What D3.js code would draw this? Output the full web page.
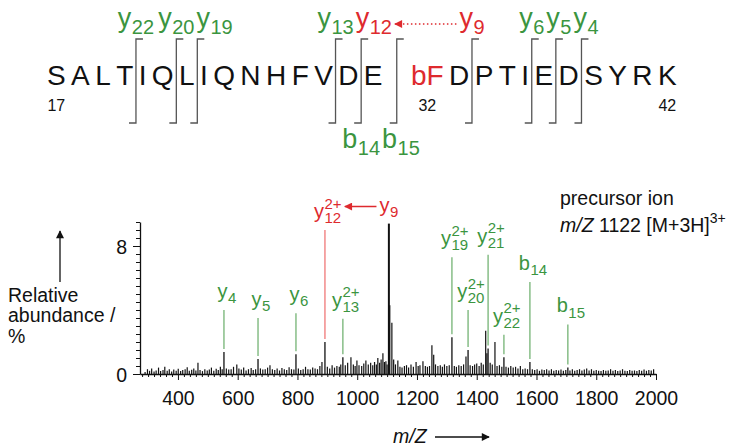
<!DOCTYPE html>
<html>
<head>
<meta charset="utf-8">
<script src="https://cdn.jsdelivr.net/npm/d3@7"></script>
<style>
  body { margin: 0; background: #fff; }
  svg { display: block; font-family: "Liberation Sans", Arial, Helvetica, sans-serif; }
</style>
</head>
<body>
<div id="chart"></div>
<script>
// peptide, residues 17-42
const residues = ['S', 'A', 'L', 'T', 'I', 'Q', 'L', 'I', 'Q', 'N', 'H', 'F', 'V', 'D', 'E',
  'bF', 'D', 'P', 'T', 'I', 'E', 'D', 'S', 'Y', 'R', 'K'];
const firstResidue = 17;
const numberedResidues = [17, 32, 42];
const modifiedResidue = 'bF';
const yFragments = [22, 20, 19, 13, 12, 9, 6, 5, 4];
const bFragments = [14, 15];
const redIons = ['y12', 'y9'];

// annotated fragment peaks
const ionNames = ['y4', 'y5', 'y6', 'y12', 'y13', 'y9', 'y19', 'y20', 'y21', 'y22', 'b14', 'b15'];
const ionCharge = [1, 1, 1, 2, 2, 1, 2, 2, 2, 2, 1, 1];
const ionMz = [554, 668, 795, 892, 952, 1106, 1317, 1371, 1438, 1491, 1578, 1705];
const ionAbundance = [1.37, 0.93, 1.24, 2.0, 1.05, 9.4, 2.3, 1.5, 1.6, 1.05, 0.75, 0.4];

// unlabelled peaks
const otherMz = [290, 298, 305, 312, 320, 327, 335, 342, 350, 356, 364, 371, 379, 386, 394, 401, 409, 416,
  424, 431, 438, 446, 453, 460, 467, 474, 482, 490, 498, 505, 512, 520, 528, 535, 542, 548, 562, 570, 578,
  586, 597, 604, 612, 620, 628, 636, 645, 652, 660, 676, 684, 692, 700, 708, 716, 724, 732, 740, 748, 756,
  764, 772, 780, 788, 803, 811, 819, 827, 835, 843, 851, 859, 867, 875, 882, 900, 908, 916, 924, 932, 940,
  945, 960, 968, 979, 987, 993, 999, 1006, 1015, 1022, 1029, 1037, 1045, 1052, 1058, 1064, 1069, 1075,
  1080, 1086, 1091, 1096, 1100, 1109, 1116, 1122, 1128, 1136, 1143, 1150, 1158, 1165, 1172, 1180, 1188,
  1197, 1204, 1210, 1220, 1228, 1235, 1242, 1250, 1256, 1262, 1270, 1278, 1285, 1292, 1300, 1308, 1325,
  1332, 1340, 1348, 1356, 1364, 1378, 1386, 1393, 1400, 1408, 1415, 1422, 1430, 1434, 1445, 1452, 1461,
  1468, 1476, 1484, 1498, 1506, 1514, 1522, 1530, 1538, 1546, 1554, 1562, 1570, 1586, 1594, 1602, 1610,
  1618, 1626, 1634, 1642, 1650, 1658, 1666, 1674, 1682, 1690, 1698, 1712, 1720, 1728, 1736, 1744, 1752,
  1760, 1768, 1776, 1784, 1792, 1800, 1808, 1816, 1824, 1832, 1840, 1848, 1856, 1864, 1872, 1880, 1888,
  1896, 1904, 1912, 1920, 1928, 1936, 1944, 1952, 1960, 1968, 1976, 1984, 1992];
const otherAbundance = [0.12, 0.3, 0.2, 0.35, 0.15, 0.22, 0.4, 0.18, 0.25, 0.45, 0.2, 0.3, 0.15, 0.28, 0.2,
  0.33, 0.18, 0.25, 0.3, 0.42, 0.2, 0.27, 0.35, 0.22, 0.7, 0.25, 0.18, 0.3, 0.22, 0.28, 0.4, 0.2, 0.33, 0.25,
  0.45, 0.3, 0.35, 0.28, 0.3, 0.45, 0.6, 0.35, 0.28, 0.4, 0.22, 0.3, 0.38, 0.25, 0.3, 0.35, 0.28, 0.3, 0.4,
  0.55, 0.3, 0.25, 0.35, 0.22, 0.38, 0.3, 0.25, 0.42, 0.3, 0.28, 0.35, 0.25, 0.3, 0.45, 0.3, 0.28, 0.4, 0.35,
  0.3, 0.5, 0.75, 0.45, 0.35, 0.55, 0.4, 0.5, 0.45, 0.6, 0.55, 0.7, 1.05, 0.6, 0.5, 0.85, 0.55, 0.5, 0.65,
  0.85, 0.6, 0.7, 0.55, 0.75, 0.6, 1.0, 0.7, 0.9, 1.3, 0.75, 0.8, 0.6, 4.3, 3.2, 0.9, 0.6, 0.85, 0.45, 0.4,
  0.5, 0.55, 0.4, 0.6, 0.45, 0.75, 0.5, 0.55, 0.8, 0.5, 0.45, 0.5, 1.8, 1.2, 0.6, 0.5, 0.55, 0.45, 0.6, 0.5,
  0.55, 0.5, 0.45, 0.55, 0.5, 0.6, 1.1, 0.55, 0.5, 0.6, 0.65, 0.5, 0.7, 0.6, 2.7, 1.3, 0.7, 0.6, 2.0, 0.5,
  0.55, 0.45, 0.45, 0.4, 0.5, 0.4, 0.45, 0.35, 0.5, 0.3, 0.35, 0.3, 0.3, 0.25, 0.3, 0.2, 0.28, 0.25, 0.3,
  0.22, 0.3, 0.2, 0.25, 0.22, 0.28, 0.2, 0.25, 0.22, 0.3, 0.2, 0.25, 0.3, 0.22, 0.28, 0.35, 0.22, 0.3, 0.2,
  0.25, 0.2, 0.18, 0.25, 0.2, 0.22, 0.3, 0.2, 0.25, 0.18, 0.22, 0.3, 0.2, 0.18, 0.25, 0.2, 0.22, 0.18, 0.25,
  0.2, 0.28, 0.2, 0.25, 0.22, 0.3];

const xTickLabels = [400, 600, 800, 1000, 1200, 1400, 1600, 1800, 2000];
const yTickLabels = [0, 8];

// label heights (abundance units) for the annotation stalks
const labelLevel = { y4: 4.0, y5: 3.5, y6: 3.8, y12: 9.0, y13: 3.45, y9: 9.4, y19: 7.3, y20: 4.0,
  y21: 7.45, y22: 2.45, b14: 5.75, b15: 3.1 };

const green = '#3b953f';
const greenLine = '#74b374';
const red = '#de2a2e';
const redLine = '#f07777';
const ink = '#111';

const svg = d3.select('#chart').append('svg').attr('width', 730).attr('height', 448);

const defs = svg.append('defs');
function arrowHead(id, color) {
  defs.append('marker').attr('id', id)
    .attr('viewBox', '0 0 10 10').attr('refX', 9).attr('refY', 5)
    .attr('markerWidth', 10).attr('markerHeight', 8)
    .attr('markerUnits', 'userSpaceOnUse').attr('orient', 'auto')
    .append('path').attr('d', 'M0,0 L10,5 L0,10 Z').attr('fill', color);
}
arrowHead('headRed', red);
arrowHead('headBlack', ink);

// fragment label: letter + subscript number (+ stacked superscript charge)
function fragLabel(parent, name, charge, cx, baseline, size, subSize, color) {
  const g = parent.append('g').attr('fill', color);
  const main = g.append('text').attr('x', 0).attr('y', 0).attr('font-size', size).text(name[0]);
  const w = main.node().getComputedTextLength();
  g.append('text').attr('x', w + 0.5).attr('y', size * 0.26).attr('font-size', subSize).text(name.slice(1));
  if (charge > 1) {
    g.append('text').attr('x', w + 0.5).attr('y', -size * 0.47).attr('font-size', subSize).text(charge + '+');
  }
  const box = g.node().getBBox();
  const left = cx - box.width / 2;
  g.attr('transform', 'translate(' + left + ',' + baseline + ')');
  return { left: left, right: left + box.width, g: g };
}

// ---------- sequence ----------
const seqFont = 28;
const seqBase = 85;
const seqGap = 5.4;
const modGap = 23;
const cuts = new Set(yFragments.map(n => residues.length - n).concat(bFragments));
const residueX = [];
const cutX = {};
let cursor = 47;
residues.forEach(function (r, i) {
  const t = svg.append('text').attr('x', cursor).attr('y', seqBase)
    .attr('font-size', seqFont).attr('fill', r === modifiedResidue ? red : ink).text(r);
  const w = t.node().getComputedTextLength();
  residueX.push(cursor + w / 2);
  cursor += w;
  const gap = seqGap + (residues[i + 1] === modifiedResidue ? modGap : 0);
  if (cuts.has(i + 1)) {
    cutX[i + 1] = cursor + gap / 2;
  }
  cursor += gap;
});

svg.append('g').selectAll('path').data(Array.from(cuts)).enter().append('path')
  .attr('d', d => 'M' + (cutX[d] - 7) + ',123 H' + cutX[d] + ' V39 H' + (cutX[d] + 7))
  .attr('fill', 'none').attr('stroke', '#555').attr('stroke-width', 1.3);

svg.append('g').selectAll('text').data(numberedResidues).enter().append('text')
  .attr('x', d => residueX[d - firstResidue])
  .attr('y', 111).attr('text-anchor', 'middle').attr('font-size', 16).attr('fill', ink)
  .text(d => d);

const topLabels = {};
let prevRight = -Infinity;
yFragments.slice().sort((a, b) => b - a).forEach(function (n) {
  const name = 'y' + n;
  const color = redIons.includes(name) ? red : green;
  const lab = fragLabel(svg, name, 1, cutX[residues.length - n], 27, 27, 20, color);
  if (lab.left < prevRight + 2) {
    const shift = prevRight + 2 - lab.left;
    lab.left += shift; lab.right += shift;
    lab.g.attr('transform', 'translate(' + lab.left + ',27)');
  }
  prevRight = lab.right;
  topLabels[name] = lab;
});
prevRight = -Infinity;
bFragments.forEach(function (n) {
  const lab = fragLabel(svg, 'b' + n, 1, cutX[n], 148, 27, 20, green);
  if (lab.left < prevRight + 2) {
    const shift = prevRight + 2 - lab.left;
    lab.left += shift; lab.right += shift;
    lab.g.attr('transform', 'translate(' + lab.left + ',148)');
  }
  prevRight = lab.right;
});

svg.append('line')
  .attr('x1', topLabels.y9.left - 3).attr('x2', topLabels.y12.right + 3)
  .attr('y1', 24).attr('y2', 24)
  .attr('stroke', red).attr('stroke-width', 1.5).attr('stroke-dasharray', '1.5,2.5')
  .attr('marker-end', 'url(#headRed)');

// ---------- spectrum ----------
const x = d3.scaleLinear().domain([273, 2000]).range([140, 656]);
const y = d3.scaleLinear().domain([0, 9.5]).range([374, 222]);

const xAxis = svg.append('g').attr('transform', 'translate(0,' + y(0) + ')')
  .call(d3.axisBottom(x).tickValues(d3.range(280, 2001, 20)).tickSizeOuter(0)
    .tickFormat(d => xTickLabels.includes(d) ? d : ''));
xAxis.selectAll('.tick line').attr('y2', d => d % 200 === 0 ? 6 : 3).attr('stroke', ink);
xAxis.selectAll('.tick text').attr('y', 31).attr('dy', null)
  .attr('font-size', 19.5).attr('font-family', null).attr('fill', ink);
xAxis.select('.domain').attr('stroke', ink).attr('stroke-width', 1.6);

const yAxis = svg.append('g').attr('transform', 'translate(' + x.range()[0] + ',0)')
  .call(d3.axisLeft(y).tickValues(d3.range(0, 9.51, 0.5)).tickSizeOuter(0)
    .tickFormat(d => yTickLabels.includes(d) ? d : ''));
yAxis.selectAll('.tick line').attr('x2', d => yTickLabels.includes(d) ? -7 : -4).attr('stroke', ink);
yAxis.selectAll('.tick text').attr('x', -13).attr('dy', '0.36em')
  .attr('font-size', 19.5).attr('font-family', null).attr('fill', ink);
yAxis.select('.domain').attr('stroke', ink).attr('stroke-width', 1.3);

// peaks
const others = otherMz.map((m, i) => ({ mz: m, v: otherAbundance[i] }));
svg.append('g').selectAll('line').data(others).enter().append('line')
  .attr('x1', d => x(d.mz)).attr('x2', d => x(d.mz))
  .attr('y1', y(0)).attr('y2', d => y(d.v))
  .attr('stroke', ink).attr('stroke-width', 1.2);

const ions = ionNames.map((n, i) => ({ name: n, charge: ionCharge[i], mz: ionMz[i], v: ionAbundance[i] }));
svg.append('g').selectAll('line').data(ions).enter().append('line')
  .attr('x1', d => x(d.mz)).attr('x2', d => x(d.mz))
  .attr('y1', y(0)).attr('y2', d => y(d.v))
  .attr('stroke', ink).attr('stroke-width', d => d.name === 'y9' ? 2 : 1.3);

// stalks from label to peak
svg.append('g').selectAll('line').data(ions.filter(d => d.name !== 'y9')).enter().append('line')
  .attr('x1', d => x(d.mz)).attr('x2', d => x(d.mz))
  .attr('y1', d => y(labelLevel[d.name])).attr('y2', d => y(d.v) - 3)
  .attr('stroke', d => redIons.includes(d.name) ? redLine : greenLine).attr('stroke-width', 1.3);

const specLabels = {};
ions.forEach(function (d) {
  const color = redIons.includes(d.name) ? red : green;
  const base = y(labelLevel[d.name]) - 12;
  specLabels[d.name] = fragLabel(svg, d.name, d.charge, x(d.mz) + (d.name === 'y9' ? 0 : 3),
    base, 20, 15, color);
});

svg.append('line')
  .attr('x1', specLabels.y9.left - 3).attr('x2', specLabels.y12.right + 3)
  .attr('y1', y(labelLevel.y9) - 17).attr('y2', y(labelLevel.y9) - 17)
  .attr('stroke', red).attr('stroke-width', 1.5)
  .attr('marker-end', 'url(#headRed)');

// axis titles
const yTitle = svg.append('text').attr('font-size', 19.5).attr('fill', ink);
[['Relative', 302], ['abundance /', 322], ['%', 343]].forEach(function (l) {
  yTitle.append('tspan').attr('x', 8).attr('y', l[1]).text(l[0]);
});
svg.append('line').attr('x1', 60).attr('x2', 60).attr('y1', 282).attr('y2', 231)
  .attr('stroke', ink).attr('stroke-width', 1.3).attr('marker-end', 'url(#headBlack)');

svg.append('text').attr('x', 393).attr('y', 443).attr('font-size', 19.5)
  .attr('font-style', 'italic').attr('fill', ink).text('m/Z');
svg.append('line').attr('x1', 435).attr('x2', 489).attr('y1', 437).attr('y2', 437)
  .attr('stroke', ink).attr('stroke-width', 1.3).attr('marker-end', 'url(#headBlack)');

// precursor note
svg.append('text').attr('x', 560).attr('y', 205).attr('font-size', 19.5).attr('fill', ink)
  .text('precursor ion');
const prec = svg.append('text').attr('x', 560).attr('y', 232).attr('font-size', 19.5).attr('fill', ink);
prec.append('tspan').attr('font-style', 'italic').text('m/Z');
prec.append('tspan').text(' 1122 [M+3H]');
prec.append('tspan').attr('font-size', 14).attr('dy', -9).text('3+');
</script>
</body>
</html>
